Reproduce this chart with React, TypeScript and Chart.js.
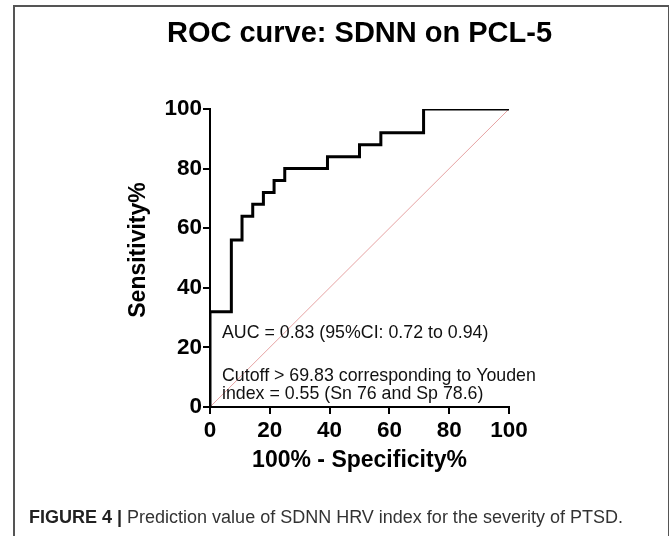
import React, { useEffect, useRef } from "react";
import { Chart, registerables } from "chart.js";

Chart.register(...registerables);

// ROC curve points (1 - specificity %, sensitivity %)
const falsePositiveRate = [0, 0, 7.14, 10.71, 14.29, 17.86, 21.43, 25, 39.29, 50, 57.14, 71.43, 100];
const sensitivity = [0, 32, 56, 64, 68, 72, 76, 80, 84, 88, 92, 100, 100];
// reference (chance) line
const chanceX = [0, 100];
const chanceY = [0, 100];
const tickValues = [0, 20, 40, 60, 80, 100];

const titleText = "ROC curve: SDNN on PCL-5";
const xTitle = "100% - Specificity%";
const yTitle = "Sensitivity%";
const annotationLines = [
  { text: "AUC = 0.83 (95%CI: 0.72 to 0.94)", x: 4, y: 23 },
  { text: "Cutoff > 69.83 corresponding to Youden", x: 4, y: 8.6 },
  { text: "index = 0.55 (Sn 76 and Sp 78.6)", x: 4, y: 2.6 },
];
const captionBold = "FIGURE 4 |";
const captionRest = " Prediction value of SDNN HRV index for the severity of PTSD.";

const FONT = "'Liberation Sans', Arial, Helvetica, sans-serif";

const titlePlugin = {
  id: "centeredTitles",
  afterDraw(chart: any) {
    const { ctx, chartArea } = chart;
    ctx.save();
    ctx.font = `bold 29px ${FONT}`;
    ctx.fillStyle = "#000";
    ctx.textAlign = "center";
    ctx.textBaseline = "middle";
    ctx.fillText(titleText, (chartArea.left + chartArea.right) / 2, 34);
    // y axis title, slightly above the axis centre as in the source figure
    ctx.font = `bold 23px ${FONT}`;
    ctx.translate(chartArea.left - 71, (chartArea.top + chartArea.bottom) / 2 - 8);
    ctx.rotate(-Math.PI / 2);
    ctx.fillText(yTitle, 0, 0);
    ctx.restore();
  },
};

const annotationPlugin = {
  id: "rocAnnotations",
  afterDatasetsDraw(chart: any) {
    const { ctx, scales } = chart;
    ctx.save();
    ctx.font = `17.8px ${FONT}`;
    ctx.fillStyle = "#111";
    ctx.textAlign = "left";
    ctx.textBaseline = "alphabetic";
    annotationLines.forEach((l) => {
      ctx.fillText(l.text, scales.x.getPixelForValue(l.x), scales.y.getPixelForValue(l.y));
    });
    ctx.restore();
  },
};

export default function App() {
  const canvasRef = useRef<HTMLCanvasElement | null>(null);

  useEffect(() => {
    const canvas = canvasRef.current;
    if (!canvas) return;
    const rocData = falsePositiveRate.map((x, i) => ({ x, y: sensitivity[i] }));
    const chanceData = chanceX.map((x, i) => ({ x, y: chanceY[i] }));

    const chart = new Chart(canvas, {
      type: "line",
      data: {
        datasets: [
          {
            label: "ROC",
            data: rocData,
            borderColor: "#000",
            borderWidth: 3,
            pointRadius: 0,
            fill: false,
            stepped: "before",
            order: 0,
          },
          {
            label: "Chance",
            data: chanceData,
            borderColor: "#e6a3a3",
            borderWidth: 1,
            pointRadius: 0,
            fill: false,
            order: 1,
          },
        ],
      },
      options: {
        animation: false,
        responsive: false,
        devicePixelRatio: 1,
        layout: { padding: { left: 0, right: 160, top: 109, bottom: 0 } },
        plugins: {
          legend: { display: false },
          tooltip: { enabled: false },
          title: { display: false },
        },
        scales: {
          x: {
            type: "linear",
            min: 0,
            max: 100,
            afterBuildTicks: (scale: any) => {
              scale.ticks = tickValues.map((v) => ({ value: v }));
            },
            afterFit: (scale: any) => {
              scale.height = 129;
            },
            grid: { drawOnChartArea: false, drawTicks: true, tickLength: 7, color: "#000", lineWidth: 2 },
            border: { display: true, color: "#000", width: 2 },
            ticks: {
              color: "#000",
              padding: 3,
              maxRotation: 0,
              font: { family: FONT, size: 22.5, weight: "bold" },
            },
            title: {
              display: true,
              text: xTitle,
              color: "#000",
              font: { family: FONT, size: 23, weight: "bold", lineHeight: 1.2 },
              padding: { top: 0, bottom: 62 },
            },
          },
          y: {
            type: "linear",
            min: 0,
            max: 100,
            afterBuildTicks: (scale: any) => {
              scale.ticks = tickValues.map((v) => ({ value: v }));
            },
            afterFit: (scale: any) => {
              scale.width = 210;
            },
            grid: { drawOnChartArea: false, drawTicks: true, tickLength: 7, color: "#000", lineWidth: 2 },
            border: { display: true, color: "#000", width: 2 },
            ticks: {
              color: "#000",
              padding: 1,
              font: { family: FONT, size: 22.5, weight: "bold" },
            },
            title: { display: false },
          },
        },
      },
      plugins: [annotationPlugin, titlePlugin],
    } as any);
    return () => chart.destroy();
  }, []);

  return (
    <div
      style={{
        position: "absolute",
        left: 0,
        top: 0,
        width: 669,
        height: 536,
        background: "#fff",
        overflow: "hidden",
      }}
    >
      <div
        style={{
          position: "absolute",
          left: 13,
          top: 5,
          width: 653,
          height: 560,
          borderLeft: "2px solid #555",
          borderTop: "2px solid #555",
          borderRight: "2px solid #555",
        }}
      />
      <canvas
        ref={canvasRef}
        width={669}
        height={536}
        style={{ position: "absolute", left: 0, top: 0, width: 669, height: 536 }}
      />
      <div
        style={{
          position: "absolute",
          left: 29,
          top: 505,
          whiteSpace: "nowrap",
          fontFamily: FONT,
          fontSize: 18,
          color: "#333",
          lineHeight: "24px",
        }}
      >
        <span style={{ fontWeight: "bold", color: "#222" }}>{captionBold}</span>
        {captionRest}
      </div>
    </div>
  );
}
